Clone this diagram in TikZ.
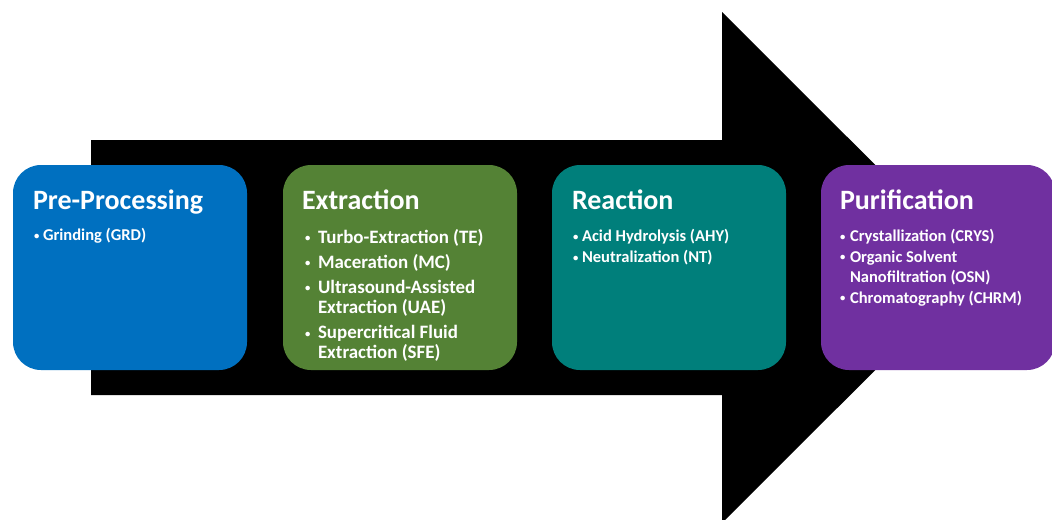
\documentclass[tikz,border=0pt]{standalone}
\usepackage{fontspec}
\setmainfont{Carlito}
\usepackage{array}
\usepackage{xcolor}

\definecolor{preblue}{HTML}{0070C0}
\definecolor{extgreen}{HTML}{548235}
\definecolor{reateal}{HTML}{007F7B}
\definecolor{purpurple}{HTML}{7030A0}
\newcommand{\stagebullet}{\raisebox{0.2ex}{\fontsize{8}{8}\selectfont\textbullet}}

\begin{document}
\begin{tikzpicture}[x=0.75pt,y=-0.75pt]
\tikzstyle{every node}+=[inner sep=0pt]
\tikzstyle{stage}=[rectangle, rounded corners=21pt, minimum width=175.5pt, minimum height=153.75pt]
\tikzstyle{stagetitle}=[anchor=base west, text=white, font=\bfseries\fontsize{21}{25}\selectfont]
\tikzstyle{stageitems}=[anchor=base west, text=white, font=\bfseries]
\clip (0,0) rectangle (1052,519);
% big arrow behind the stages
\fill [black] (91,140) -- (722,140) -- (722,12) -- (978,267.5) -- (722,523) -- (722,395) -- (91,395) -- cycle;
% stages
\node [stage, fill=preblue] (pre) at (130,267.5) {};
\node [stage, fill=extgreen] (ext) at (400,267.5) {};
\node [stage, fill=reateal] (rea) at (669,267.5) {};
\node [stage, fill=purpurple] (pur) at (938,267.5) {};
% titles
\node [stagetitle] (preT) at ([shift={(20,45)}]pre.north west) {Pre-Processing};
\node [stagetitle] (extT) at ([shift={(19,45)}]ext.north west) {Extraction};
\node [stagetitle] (reaT) at ([shift={(20,45)}]rea.north west) {Reaction};
\node [stagetitle] (purT) at ([shift={(19,45)}]pur.north west) {Purification};
% bullet lists
\node [stageitems] (preL) at ([shift={(21,76)}]pre.north west) {\fontsize{12.4}{15.75}\selectfont
  \begin{tabular}[t]{@{}p{6.75pt}@{}l@{}}
  \stagebullet & Grinding (GRD)
  \end{tabular}};
\node [stageitems] (extL) at ([shift={(22,79)}]ext.north west) {\fontsize{14.2}{15}\selectfont
  \begin{tabular}[t]{@{}p{9.75pt}@{}l@{}}
  \stagebullet & Turbo-Extraction (TE)\\[3.75pt]
  \stagebullet & Maceration (MC)\\[3.5pt]
  \stagebullet & Ultrasound-Assisted\\
               & Extraction (UAE)\\[4pt]
  \stagebullet & Supercritical Fluid\\
               & Extraction (SFE)
  \end{tabular}};
\node [stageitems] (reaL) at ([shift={(21,77)}]rea.north west) {\fontsize{12.4}{15.75}\selectfont
  \begin{tabular}[t]{@{}p{6.75pt}@{}l@{}}
  \stagebullet & Acid Hydrolysis (AHY)\\
  \stagebullet & Neutralization (NT)
  \end{tabular}};
\node [stageitems] (purL) at ([shift={(19,77)}]pur.north west) {\fontsize{12.4}{15.4}\selectfont
  \begin{tabular}[t]{@{}p{7.5pt}@{}l@{}}
  \stagebullet & Crystallization (CRYS)\\
  \stagebullet & Organic Solvent\\
               & Nanofiltration (OSN)\\
  \stagebullet & Chromatography (CHRM)
  \end{tabular}};
\end{tikzpicture}
\end{document}
